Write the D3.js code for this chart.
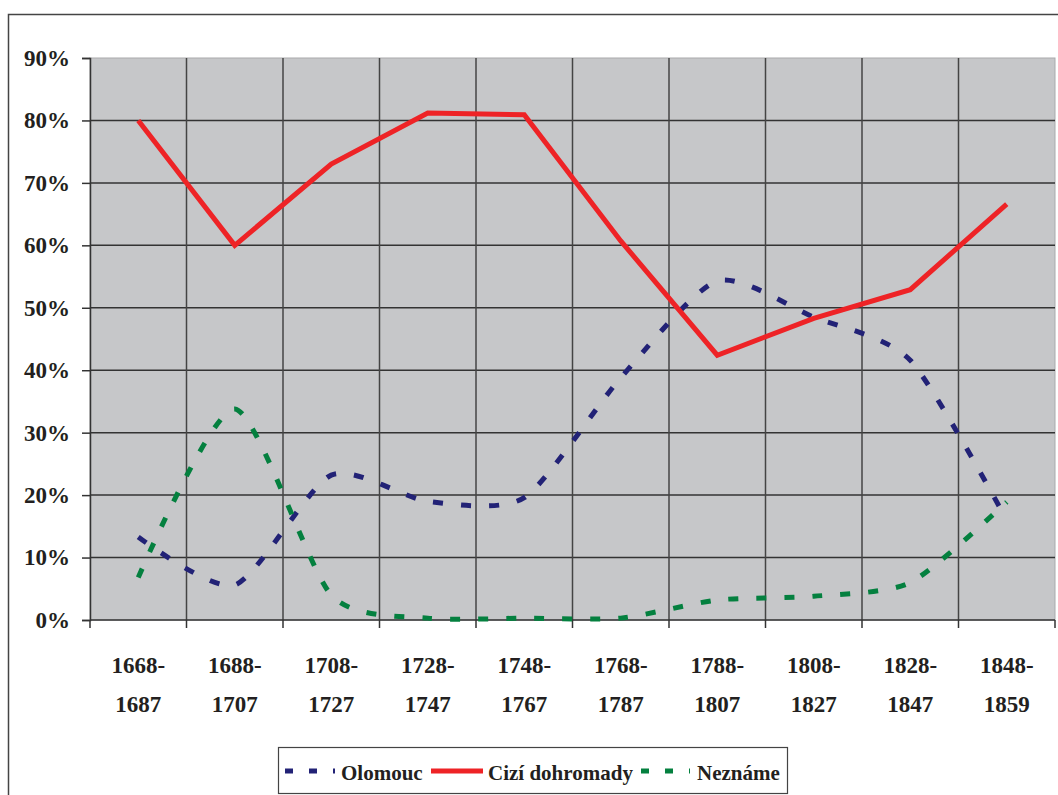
<!DOCTYPE html>
<html>
<head>
<meta charset="UTF-8">
<title>Olomouc</title>
<style>
    html, body { margin: 0; padding: 0; background: #fff; }
    svg { display: block; font-family: "Liberation Serif", "DejaVu Serif", serif; font-weight: bold; }
</style>
</head>
<body>
<svg width="1058" height="795"></svg>
<script src="https://d3js.org/d3.v7.min.js"></script>
<script>
// data (percent)
var categories = ["1668-1687", "1688-1707", "1708-1727", "1728-1747", "1748-1767",
                  "1768-1787", "1788-1807", "1808-1827", "1828-1847", "1848-1859"];
var olomouc = [13.3, 5.6, 23.2, 19.0, 19.6, 38.8, 54.3, 48.5, 41.6, 16.0];
var cizi    = [80.0, 60.0, 73.0, 81.2, 80.9, 60.7, 42.4, 48.3, 52.9, 66.6];
var nezname = [6.8, 33.8, 4.0, 0.3, 0.3, 0.3, 3.2, 3.8, 6.0, 18.9];
var yTicks  = [0, 10, 20, 30, 40, 50, 60, 70, 80, 90];

var series = [
    { name: "Olomouc", values: olomouc, color: "#222276", dash: "10,18", smooth: true },
    { name: "Cizí dohromady", values: cizi, color: "#ee2326", dash: null, smooth: false },
    { name: "Neznáme", values: nezname, color: "#04803f", dash: "10,18", smooth: true }
];

var svg = d3.select("svg");

// outer frame (runs off right and bottom edges)
svg.append("rect")
    .attr("x", 8.5).attr("y", 14.5)
    .attr("width", 1100).attr("height", 900)
    .attr("fill", "none").attr("stroke", "#444").attr("stroke-width", 1.5);

var plotLeft = 90, plotRight = 1055, plotTop = 58, plotBottom = 620;

var x = d3.scaleBand().domain(categories).range([plotLeft, plotRight]).padding(0);
var y = d3.scaleLinear().domain([0, 90]).range([plotBottom, plotTop]);

// plot background
svg.append("rect")
    .attr("x", plotLeft).attr("y", plotTop)
    .attr("width", plotRight - plotLeft).attr("height", plotBottom - plotTop)
    .attr("fill", "#c6c7c9")
    .attr("stroke", "#a9aaac").attr("stroke-width", 1);

// horizontal grid
svg.append("g").selectAll("line")
    .data(yTicks.filter(function (d) { return d > 0 && d < 90; }))
    .enter().append("line")
    .attr("x1", plotLeft).attr("x2", plotRight)
    .attr("y1", function (d) { return y(d); })
    .attr("y2", function (d) { return y(d); })
    .attr("stroke", "#333").attr("stroke-width", 1.5);

// vertical grid at category boundaries
svg.append("g").selectAll("line")
    .data(categories.slice(1))
    .enter().append("line")
    .attr("x1", function (d) { return x(d); })
    .attr("x2", function (d) { return x(d); })
    .attr("y1", plotTop).attr("y2", plotBottom)
    .attr("stroke", "#444").attr("stroke-width", 1.5);

// y axis
var yAxis = svg.append("g")
    .attr("transform", "translate(" + plotLeft + ",0)")
    .call(d3.axisLeft(y).tickValues(yTicks).tickSize(8).tickPadding(12)
        .tickFormat(function (d) { return d + "%"; }));
yAxis.select(".domain").attr("stroke", "#333").attr("stroke-width", 1.5);
yAxis.selectAll(".tick line").attr("stroke", "#333").attr("stroke-width", 1.5);
yAxis.selectAll(".tick text")
    .attr("fill", "#231f20")
    .style("font-size", "23px").style("font-family", "Liberation Serif, serif").style("font-weight", "bold");

// x axis line and boundary ticks
svg.append("line")
    .attr("x1", plotLeft).attr("x2", plotRight).attr("y1", plotBottom).attr("y2", plotBottom)
    .attr("stroke", "#333").attr("stroke-width", 1.5);
svg.append("g").selectAll("line")
    .data(categories.concat(["end"]))
    .enter().append("line")
    .attr("x1", function (d, i) { return plotLeft + i * x.bandwidth(); })
    .attr("x2", function (d, i) { return plotLeft + i * x.bandwidth(); })
    .attr("y1", plotBottom).attr("y2", plotBottom + 8)
    .attr("stroke", "#333").attr("stroke-width", 1.5);

// x labels, two lines
var xl = svg.append("g").selectAll("text")
    .data(categories)
    .enter().append("text")
    .attr("text-anchor", "middle")
    .attr("fill", "#231f20")
    .style("font-size", "23px");
xl.append("tspan")
    .attr("x", function (d) { return x(d) + x.bandwidth() / 2; })
    .attr("y", 673)
    .text(function (d) { return d.split("-")[0] + "-"; });
xl.append("tspan")
    .attr("x", function (d) { return x(d) + x.bandwidth() / 2; })
    .attr("y", 712)
    .text(function (d) { return d.split("-")[1]; });

// lines
series.forEach(function (s) {
    var line = d3.line()
        .x(function (d, i) { return x(categories[i]) + x.bandwidth() / 2; })
        .y(function (d) { return y(d); })
        .curve(s.smooth ? d3.curveCardinal.tension(0.3) : d3.curveLinear);
    svg.append("path")
        .datum(s.values)
        .attr("d", line)
        .attr("fill", "none")
        .attr("stroke", s.color)
        .attr("stroke-width", 5)
        .attr("stroke-linejoin", "miter")
        .attr("stroke-dasharray", s.dash);
});

// legend
var legend = svg.append("g");
legend.append("rect")
    .attr("x", 278.5).attr("y", 747.5)
    .attr("width", 509).attr("height", 46)
    .attr("fill", "#fff").attr("stroke", "#444").attr("stroke-width", 1.2);

var legendItems = [
    { s: series[0], x0: 285, x1: 335, tx: 341 },
    { s: series[1], x0: 431, x1: 483, tx: 488 },
    { s: series[2], x0: 641, x1: 690, tx: 697 }
];
legendItems.forEach(function (it) {
    legend.append("line")
        .attr("x1", it.x0).attr("x2", it.x1)
        .attr("y1", 771).attr("y2", 771)
        .attr("stroke", it.s.color)
        .attr("stroke-width", 5)
        .attr("stroke-dasharray", it.s.dash ? "8,16" : null);
    legend.append("text")
        .attr("x", it.tx).attr("y", 780)
        .attr("fill", "#231f20")
        .style("font-size", "21px")
        .text(it.s.name);
});
</script>
</body>
</html>
